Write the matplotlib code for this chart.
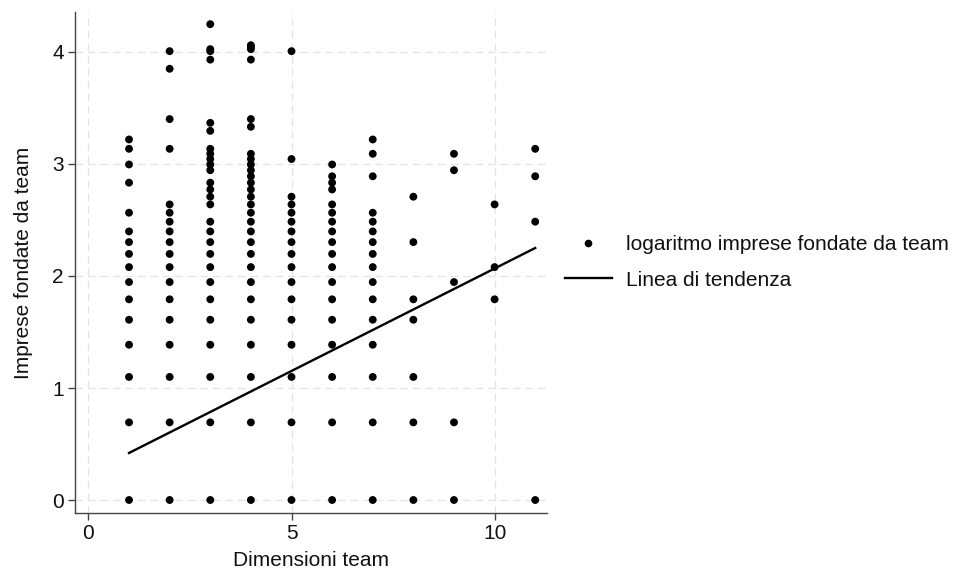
import numpy as np
import matplotlib
matplotlib.use("Agg")
import matplotlib.pyplot as plt
from matplotlib.lines import Line2D

plt.rcParams["font.family"] = ["Liberation Sans", "DejaVu Sans"]

# Number of firms founded by teams, grouped by team size
team_sizes = [1, 2, 3, 4, 5, 6, 7, 8, 9, 10, 11]
firms_size_1 = [1, 2, 3, 4, 5, 6, 7, 8, 9, 10, 11, 13, 17, 20, 23, 25]
firms_size_2 = [1, 2, 3, 4, 5, 6, 7, 8, 9, 10, 11, 12, 13, 14, 23, 30, 47, 55]
firms_size_3 = [1, 2, 3, 4, 5, 6, 7, 8, 9, 10, 11, 12, 14, 15, 16, 17, 19, 20,
                21, 22, 23, 27, 29, 51, 55, 56, 70]
firms_size_4 = [1, 2, 3, 4, 5, 6, 7, 8, 9, 10, 11, 12, 13, 14, 15, 16, 17, 18,
                19, 20, 21, 22, 28, 30, 51, 56, 57, 58]
firms_size_5 = [1, 2, 3, 4, 5, 6, 7, 8, 9, 10, 11, 12, 13, 14, 15, 21, 55]
firms_size_6 = [1, 2, 3, 4, 5, 6, 7, 8, 9, 10, 11, 12, 13, 14, 16, 17, 18, 20]
firms_size_7 = [1, 2, 3, 4, 5, 6, 7, 8, 9, 10, 11, 12, 13, 18, 22, 25]
firms_size_8 = [1, 2, 3, 5, 6, 10, 15]
firms_size_9 = [1, 2, 7, 19, 22]
firms_size_10 = [6, 8, 14]
firms_size_11 = [1, 12, 18, 23]

firms_by_size = [firms_size_1, firms_size_2, firms_size_3, firms_size_4,
                 firms_size_5, firms_size_6, firms_size_7, firms_size_8,
                 firms_size_9, firms_size_10, firms_size_11]

# Fitted trend line endpoints
trend_x = [1, 11]
trend_y = [0.42, 2.25]

x_ticks = [0, 5, 10]
y_ticks = [0, 1, 2, 3, 4]

xs, ys = [], []
for size, firms in zip(team_sizes, firms_by_size):
    xs.extend([size] * len(firms))
    ys.extend(np.log(firms))

fig = plt.figure(figsize=(9.63, 5.73), dpi=100)
ax = fig.add_axes([75 / 963, 60 / 573, 472 / 963, 501 / 573])

ax.set_xlim(-0.33, 11.29)
ax.set_ylim(-0.116, 4.357)

for v in x_ticks:
    ax.axvline(v, color="#e3e3e3", lw=0.9, ls=(0, (6, 4)), zorder=0)
for v in y_ticks:
    ax.axhline(v, color="#e3e3e3", lw=0.9, ls=(0, (6, 4)), zorder=0)

ax.scatter(xs, ys, s=32, color="black", edgecolors="none", zorder=3)
ax.plot(trend_x, trend_y, color="black", lw=1.7, zorder=4)

for side in ("top", "right"):
    ax.spines[side].set_visible(False)
for side in ("left", "bottom"):
    ax.spines[side].set_color("#444444")
    ax.spines[side].set_linewidth(1.0)

ax.set_xticks(x_ticks)
ax.set_yticks(y_ticks)
ax.set_yticklabels([str(v) for v in y_ticks])
ax.tick_params(axis="both", colors="#444444", labelcolor="#111111",
               labelsize=15, length=5, width=1.0, pad=3)

ax.set_xlabel("Dimensioni team", fontsize=15, color="#111111", labelpad=6)
ax.set_ylabel("Imprese fondate da team", fontsize=15, color="#111111",
              labelpad=14)

handles = [
    Line2D([], [], ls="none", marker="o", markersize=4.5, color="black"),
    Line2D([], [], color="black", lw=1.7),
]
labels = ["logaritmo imprese fondate da team", "Linea di tendenza"]
fig.legend(handles, labels, loc="center left",
           bbox_to_anchor=(565 / 963, 1 - 262.5 / 573), frameon=False,
           fontsize=15, handlelength=2.25, handletextpad=0.7,
           labelspacing=0.78, borderpad=0, borderaxespad=0,
           labelcolor="#111111")

fig.savefig("out.png", dpi=100)
